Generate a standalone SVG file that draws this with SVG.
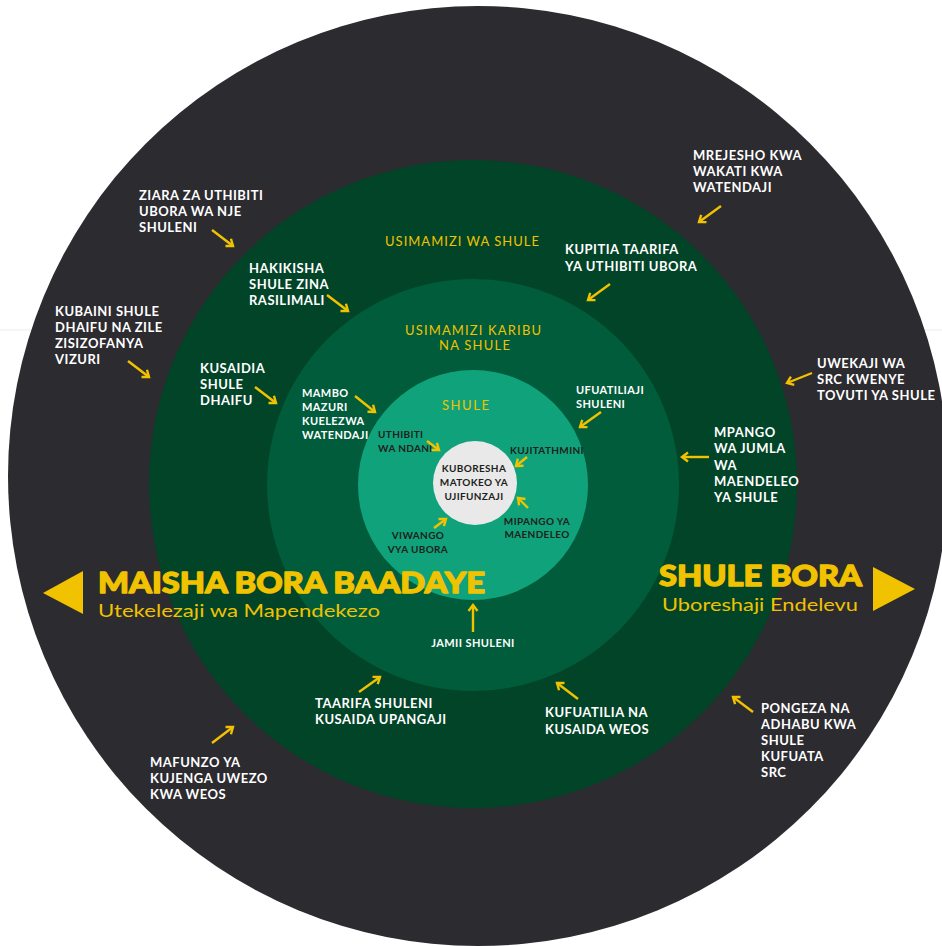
<svg xmlns="http://www.w3.org/2000/svg" width="942" height="946" viewBox="0 0 942 946">
<style>
.w{fill:#ffffff;font-family:Lato,"Open Sans","Liberation Sans",sans-serif;font-weight:700;font-size:13px;letter-spacing:0.5px}
.ws{fill:#ffffff;font-family:Lato,"Open Sans","Liberation Sans",sans-serif;font-weight:700;font-size:11px;letter-spacing:0.4px}
.d{fill:#1e1e1c;font-family:Lato,"Open Sans","Liberation Sans",sans-serif;font-weight:700;font-size:10px;letter-spacing:0.35px}
.y{fill:#f0c200;font-family:Lato,"Open Sans","Liberation Sans",sans-serif;font-weight:400;font-size:13px}
.big{fill:#f0c200;stroke:#f0c200;stroke-width:1.3;stroke-linejoin:round;font-family:Lato,Roboto,"Liberation Sans",sans-serif;font-weight:900;font-size:29px}
.sub{fill:#f0c200;font-family:Lato,"Open Sans","Liberation Sans",sans-serif;font-weight:400;font-size:18px}
.arr{stroke:#f0c200;stroke-width:2.4;fill:none}
</style>
<defs>
<marker id="ah" markerWidth="12" markerHeight="12" refX="8" refY="6" orient="auto" markerUnits="userSpaceOnUse">
<path d="M2,1.5 L8,6 L2,10.5" fill="none" stroke="#f0c200" stroke-width="2.4" stroke-linejoin="miter"/>
</marker>
</defs>
<rect width="942" height="946" fill="#ffffff"/>
<line x1="0" y1="330" x2="942" y2="330" stroke="#ececec" stroke-width="1"/>
<g id="ring-outer"><circle cx="478" cy="476" r="470" fill="#2c2b30"/></g>
<g id="ring-usimamizi"><circle cx="473" cy="484" r="324" fill="#024428"/></g>
<g id="ring-karibu"><circle cx="473" cy="485" r="206" fill="#005c3b"/></g>
<g id="ring-shule"><circle cx="473" cy="485" r="115" fill="#10a37b"/></g>
<g id="center"><circle cx="475" cy="483" r="42" fill="#e9e9e9"/>
<text class="d" text-anchor="middle" x="474" y="472">KUBORESHA</text>
<text class="d" text-anchor="middle" x="474" y="486">MATOKEO YA</text>
<text class="d" text-anchor="middle" x="474" y="500">UJIFUNZAJI</text></g>

<g id="ring-titles">
<text class="y" x="385" y="246" textLength="154">USIMAMIZI WA SHULE</text>
<text class="y" x="405" y="335" textLength="136">USIMAMIZI KARIBU</text>
<text class="y" x="439" y="350" textLength="71">NA SHULE</text>
<text class="y" x="442" y="410" textLength="47">SHULE</text>
</g>

<g id="left-title">
<polygon points="43,593 83,571 83,614" fill="#f0c200"/>
<text class="big" x="98" y="593" textLength="387" lengthAdjust="spacingAndGlyphs">MAISHA BORA BAADAYE</text>
<text class="sub" x="98" y="617" textLength="282" lengthAdjust="spacingAndGlyphs">Utekelezaji wa Mapendekezo</text>
</g>
<g id="right-title">
<polygon points="873,567 915,589 873,611" fill="#f0c200"/>
<text class="big" x="659" y="586" textLength="203" lengthAdjust="spacingAndGlyphs">SHULE BORA</text>
<text class="sub" x="662" y="611" textLength="196" lengthAdjust="spacingAndGlyphs">Uboreshaji Endelevu</text>
</g>

<g id="n-ziara"><text class="w" x="139" y="200">ZIARA ZA UTHIBITI</text><text class="w" x="139" y="216">UBORA WA NJE</text><text class="w" x="139" y="232">SHULENI</text></g>
<g id="n-kubaini"><text class="w" x="55" y="316">KUBAINI SHULE</text><text class="w" x="55" y="332">DHAIFU NA ZILE</text><text class="w" x="55" y="348">ZISIZOFANYA</text><text class="w" x="55" y="364">VIZURI</text></g>
<g id="n-mrejesho"><text class="w" x="693" y="160">MREJESHO KWA</text><text class="w" x="693" y="176">WAKATI KWA</text><text class="w" x="693" y="192">WATENDAJI</text></g>
<g id="n-uwekaji"><text class="w" x="817" y="368">UWEKAJI WA</text><text class="w" x="817" y="384">SRC KWENYE</text><text class="w" x="817" y="400">TOVUTI YA SHULE</text></g>
<g id="n-mafunzo"><text class="w" x="150" y="767">MAFUNZO YA</text><text class="w" x="150" y="783">KUJENGA UWEZO</text><text class="w" x="150" y="799">KWA WEOS</text></g>
<g id="n-pongeza"><text class="w" x="761" y="713">PONGEZA NA</text><text class="w" x="761" y="729">ADHABU KWA</text><text class="w" x="761" y="745">SHULE</text><text class="w" x="761" y="761">KUFUATA</text><text class="w" x="761" y="777">SRC</text></g>

<g id="n-hakikisha"><text class="w" x="249" y="273">HAKIKISHA</text><text class="w" x="249" y="289">SHULE ZINA</text><text class="w" x="249" y="305">RASILIMALI</text></g>
<g id="n-kusaidia"><text class="w" x="200" y="373">KUSAIDIA</text><text class="w" x="200" y="389">SHULE</text><text class="w" x="200" y="405">DHAIFU</text></g>
<g id="n-kupitia"><text class="w" x="565" y="254">KUPITIA TAARIFA</text><text class="w" x="565" y="271">YA UTHIBITI UBORA</text></g>
<g id="n-mpango"><text class="w" x="714" y="437">MPANGO</text><text class="w" x="714" y="453">WA JUMLA</text><text class="w" x="714" y="470">WA</text><text class="w" x="714" y="486">MAENDELEO</text><text class="w" x="714" y="502">YA SHULE</text></g>
<g id="n-taarifa"><text class="w" x="315" y="708">TAARIFA SHULENI</text><text class="w" x="315" y="724">KUSAIDA UPANGAJI</text></g>
<g id="n-kufuatilia"><text class="w" x="545" y="717">KUFUATILIA NA</text><text class="w" x="545" y="734">KUSAIDA WEOS</text></g>

<g id="n-mambo"><text class="ws" x="302" y="397">MAMBO</text><text class="ws" x="302" y="411">MAZURI</text><text class="ws" x="302" y="425">KUELEZWA</text><text class="ws" x="302" y="439">WATENDAJI</text></g>
<g id="n-ufuatiliaji"><text class="ws" x="576" y="394">UFUATILIAJI</text><text class="ws" x="576" y="408">SHULENI</text></g>
<g id="n-jamii"><text class="ws" x="473" y="647" text-anchor="middle">JAMII SHULENI</text></g>

<g id="n-uthibiti"><text class="d" x="378" y="438">UTHIBITI</text><text class="d" x="378" y="452">WA NDANI</text></g>
<g id="n-kujitathmini"><text class="d" x="510" y="454">KUJITATHMINI</text></g>
<g id="n-mipango"><text class="d" x="537" y="525" text-anchor="middle">MIPANGO YA</text><text class="d" x="537" y="538" text-anchor="middle">MAENDELEO</text></g>
<g id="n-viwango"><text class="d" x="418" y="539" text-anchor="middle">VIWANGO</text><text class="d" x="418" y="553" text-anchor="middle">VYA UBORA</text></g>

<g id="connectors" class="arr">
<line x1="212" y1="230" x2="233" y2="246" marker-end="url(#ah)"/>
<line x1="128" y1="361" x2="149" y2="377" marker-end="url(#ah)"/>
<line x1="721" y1="206" x2="699" y2="222" marker-end="url(#ah)"/>
<line x1="812" y1="373" x2="787" y2="383" marker-end="url(#ah)"/>
<line x1="212" y1="743" x2="233" y2="727" marker-end="url(#ah)"/>
<line x1="753" y1="712" x2="733" y2="697" marker-end="url(#ah)"/>
<line x1="327" y1="295" x2="348" y2="311" marker-end="url(#ah)"/>
<line x1="255" y1="387" x2="276" y2="403" marker-end="url(#ah)"/>
<line x1="610" y1="284" x2="588" y2="300" marker-end="url(#ah)"/>
<line x1="709" y1="457" x2="682" y2="457" marker-end="url(#ah)"/>
<line x1="359" y1="692" x2="380" y2="677" marker-end="url(#ah)"/>
<line x1="578" y1="699" x2="557" y2="683" marker-end="url(#ah)"/>
<line x1="355" y1="396" x2="375" y2="412" marker-end="url(#ah)"/>
<line x1="601" y1="412" x2="580" y2="427" marker-end="url(#ah)"/>
<line x1="473" y1="632" x2="473" y2="605" marker-end="url(#ah)"/>
<line x1="427" y1="441" x2="439" y2="450" marker-end="url(#ah)"/>
<line x1="527" y1="457" x2="516" y2="466" marker-end="url(#ah)"/>
<line x1="528" y1="508" x2="518" y2="498" marker-end="url(#ah)"/>
<line x1="434" y1="528" x2="446" y2="519" marker-end="url(#ah)"/>
</g>
</svg>
